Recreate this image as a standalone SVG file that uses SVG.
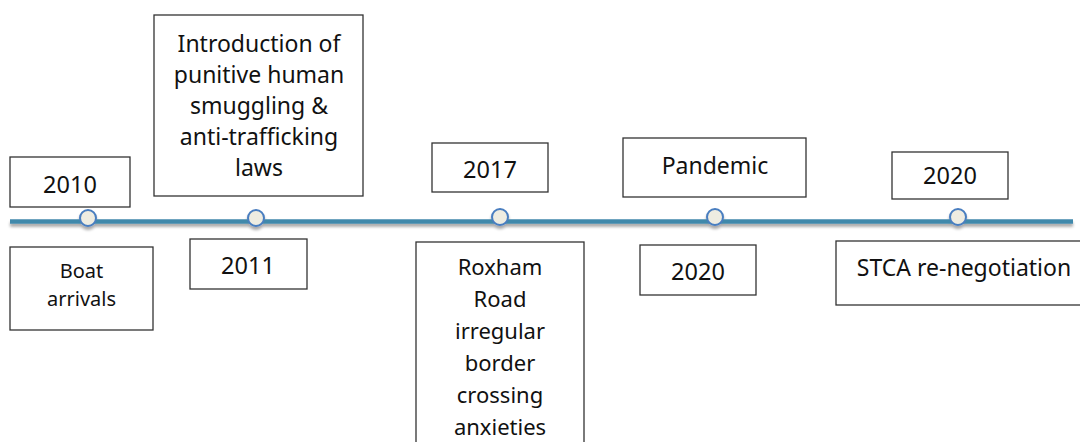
<svg xmlns="http://www.w3.org/2000/svg" width="1080" height="442" viewBox="0 0 1080 442">
  <defs>
    <filter id="shadow" x="-10%" y="-100%" width="120%" height="400%">
      <feGaussianBlur in="SourceAlpha" stdDeviation="1.6"/>
      <feOffset dx="0" dy="2.5" result="b"/>
      <feComponentTransfer><feFuncA type="linear" slope="0.35"/></feComponentTransfer>
      <feMerge><feMergeNode/><feMergeNode in="SourceGraphic"/></feMerge>
    </filter>
    <style>
      .box { fill: #ffffff; stroke: #333333; stroke-width: 1.3; }
      .t { font-family: "Noto Sans", "Open Sans", sans-serif; fill: #111111; text-anchor: middle; }
      .yr { font-size: 23.5px; }
      .lbl { font-size: 23px; }
      .tall { font-size: 22px; }
      .sm { font-size: 20px; }
      .axis { stroke: #4189ab; stroke-width: 4.5; stroke-linecap: butt; fill: none; }
      .dot { fill: #eeece1; stroke: #4a7ec0; stroke-width: 2; }
    </style>
  </defs>

  <rect width="1080" height="442" fill="#ffffff"/>

  <!-- timeline axis and event markers -->
  <g id="connectors" filter="url(#shadow)">
    <line class="axis" x1="10" y1="221.5" x2="1073" y2="221.5"/>
    <circle class="dot" cx="88" cy="218" r="8"/>
    <circle class="dot" cx="256" cy="218" r="8"/>
    <circle class="dot" cx="500" cy="217" r="8"/>
    <circle class="dot" cx="715" cy="217" r="8"/>
    <circle class="dot" cx="958" cy="217" r="8"/>
  </g>

  <g id="y2010">
    <rect class="box" x="10" y="157" width="120" height="50"/>
    <text class="t yr" x="70" y="193">2010</text>
  </g>

  <g id="boat-arrivals">
    <rect class="box" x="10" y="247" width="143" height="83"/>
    <text class="t sm" x="81.5" y="278">Boat</text>
    <text class="t sm" x="81.5" y="306">arrivals</text>
  </g>

  <g id="laws">
    <rect class="box" x="154" y="15" width="209" height="181"/>
    <text class="t lbl" x="259" y="52">Introduction of</text>
    <text class="t lbl" x="259" y="83">punitive human</text>
    <text class="t lbl" x="259" y="114">smuggling &amp;</text>
    <text class="t lbl" x="259" y="145">anti-trafficking</text>
    <text class="t lbl" x="259" y="176">laws</text>
  </g>

  <g id="y2011">
    <rect class="box" x="190" y="239" width="117" height="50"/>
    <text class="t yr" x="248" y="274">2011</text>
  </g>

  <g id="y2017">
    <rect class="box" x="432" y="143" width="116" height="49"/>
    <text class="t yr" x="490" y="178">2017</text>
  </g>

  <g id="roxham">
    <rect class="box" x="416" y="242" width="168" height="210"/>
    <text class="t tall" x="500" y="275">Roxham</text>
    <text class="t tall" x="500" y="307">Road</text>
    <text class="t tall" x="500" y="339">irregular</text>
    <text class="t tall" x="500" y="371">border</text>
    <text class="t tall" x="500" y="403">crossing</text>
    <text class="t tall" x="500" y="435">anxieties</text>
  </g>

  <g id="pandemic">
    <rect class="box" x="623" y="138" width="183" height="59"/>
    <text class="t lbl" x="715" y="174">Pandemic</text>
  </g>

  <g id="y2020-a">
    <rect class="box" x="640" y="245" width="116" height="50"/>
    <text class="t yr" x="698" y="280">2020</text>
  </g>

  <g id="y2020-b">
    <rect class="box" x="892" y="152" width="116" height="47"/>
    <text class="t yr" x="950" y="184">2020</text>
  </g>

  <g id="stca">
    <rect class="box" x="836" y="241" width="260" height="64"/>
    <text class="t lbl" x="964" y="276">STCA re-negotiation</text>
  </g>
</svg>
